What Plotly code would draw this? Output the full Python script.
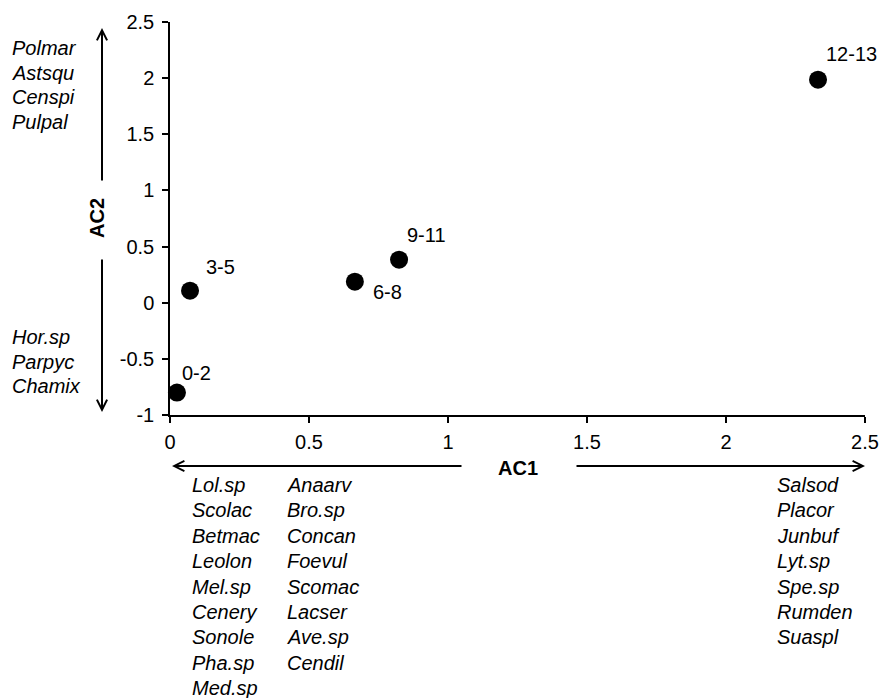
import plotly.graph_objects as go

# ---------------- data ----------------
age_classes = ["0-2", "3-5", "6-8", "9-11", "12-13"]
ac1_scores = [0.025, 0.072, 0.665, 0.824, 2.331]
ac2_scores = [-0.80, 0.107, 0.187, 0.383, 1.986]

x_tick_vals = [0, 0.5, 1, 1.5, 2, 2.5]
x_tick_text = ["0", "0.5", "1", "1.5", "2", "2.5"]
y_tick_vals = [-1, -0.5, 0, 0.5, 1, 1.5, 2, 2.5]
y_tick_text = ["-1", "-0.5", "0", "0.5", "1", "1.5", "2", "2.5"]

ac2_positive_species = ["Polmar", "Astsqu", "Censpi", "Pulpal"]
ac2_negative_species = ["Hor.sp", "Parpyc", "Chamix"]
ac1_negative_species_a = ["Lol.sp", "Scolac", "Betmac", "Leolon", "Mel.sp",
                          "Cenery", "Sonole", "Pha.sp", "Med.sp"]
ac1_negative_species_b = ["Anaarv", "Bro.sp", "Concan", "Foevul", "Scomac",
                          "Lacser", "Ave.sp", "Cendil"]
ac1_positive_species = ["Salsod", "Placor", "Junbuf", "Lyt.sp", "Spe.sp",
                        "Rumden", "Suaspl"]

# ---------------- layout geometry ----------------
W, H = 883, 698
L, R, T, B = 170, 18, 22, 283
PW, PH = W - L - R, H - T - B
FONT = "Liberation Sans, Arial, sans-serif"
FS = 20

def px_x(X):
    return (X - L) / PW

def px_y(Y):
    return (H - B - Y) / PH

# label offsets (pixels) for point labels
label_offsets = [(20, 20), (30, 24), (33, -10), (27, 25), (33, 26)]

fig = go.Figure()
fig.add_trace(go.Scatter(
    x=ac1_scores, y=ac2_scores, mode="markers",
    marker=dict(size=18, color="black"),
    cliponaxis=False, showlegend=False, hoverinfo="skip",
))

annotations = []
for name, xv, yv, (dx, dy) in zip(age_classes, ac1_scores, ac2_scores, label_offsets):
    annotations.append(dict(
        x=xv, y=yv, xref="x", yref="y", text=name, showarrow=False,
        xshift=dx, yshift=dy, xanchor="center", yanchor="middle",
        font=dict(family=FONT, size=FS, color="black"),
    ))

def species_block(names, x_left, y_first, spacing):
    for i, n in enumerate(names):
        annotations.append(dict(
            x=px_x(x_left), y=px_y(y_first + i * spacing), xref="paper", yref="paper",
            text="<i>" + n + "</i>", showarrow=False, xanchor="left", yanchor="middle",
            font=dict(family=FONT, size=FS, color="black"),
        ))

species_block(ac2_positive_species, 10, 48, 24.7)
species_block(ac2_negative_species, 10, 337, 24.7)
species_block(ac1_negative_species_a, 190, 485, 25.4)
species_block(ac1_negative_species_b, 285, 485, 25.4)
species_block(ac1_positive_species, 775, 485, 25.4)

def arrow(hx, hy, tx, ty):
    annotations.append(dict(
        x=px_x(hx), y=px_y(hy), xref="paper", yref="paper",
        ax=tx - hx, ay=ty - hy, axref="pixel", ayref="pixel",
        text="", showarrow=True, arrowhead=5, arrowsize=1, arrowwidth=2,
        arrowcolor="black", standoff=0, startstandoff=0,
    ))

arrow(102, 28, 102, 182)
arrow(102, 412, 102, 258)
arrow(172, 466, 463, 466)
arrow(865, 466, 575, 466)

annotations.append(dict(
    x=px_x(517.5), y=px_y(468), xref="paper", yref="paper", text="<b>AC1</b>",
    showarrow=False, xanchor="center", yanchor="middle",
    font=dict(family=FONT, size=FS, color="black"),
))
annotations.append(dict(
    x=px_x(97), y=px_y(218), xref="paper", yref="paper", text="<b>AC2</b>",
    showarrow=False, xanchor="center", yanchor="middle", textangle=-90,
    font=dict(family=FONT, size=FS, color="black"),
))

axis_common = dict(
    showgrid=False, zeroline=False, showline=True, linecolor="black", linewidth=1.5,
    ticks="outside", ticklen=6, tickwidth=1.5, tickcolor="black",
    tickfont=dict(family=FONT, size=FS, color="black"), automargin=False,
)

fig.update_layout(
    width=W, height=H,
    margin=dict(l=L, r=R, t=T, b=B, pad=0),
    paper_bgcolor="white", plot_bgcolor="white",
    font=dict(family=FONT, size=FS, color="black"),
    xaxis=dict(range=[0, 2.5], tickvals=x_tick_vals, ticktext=x_tick_text,
               ticklabelstandoff=2, **axis_common),
    yaxis=dict(range=[-1, 2.5], tickvals=y_tick_vals, ticktext=y_tick_text,
               ticklabelstandoff=4, **axis_common),
    annotations=annotations,
    showlegend=False,
)

fig.write_html("out.html")
